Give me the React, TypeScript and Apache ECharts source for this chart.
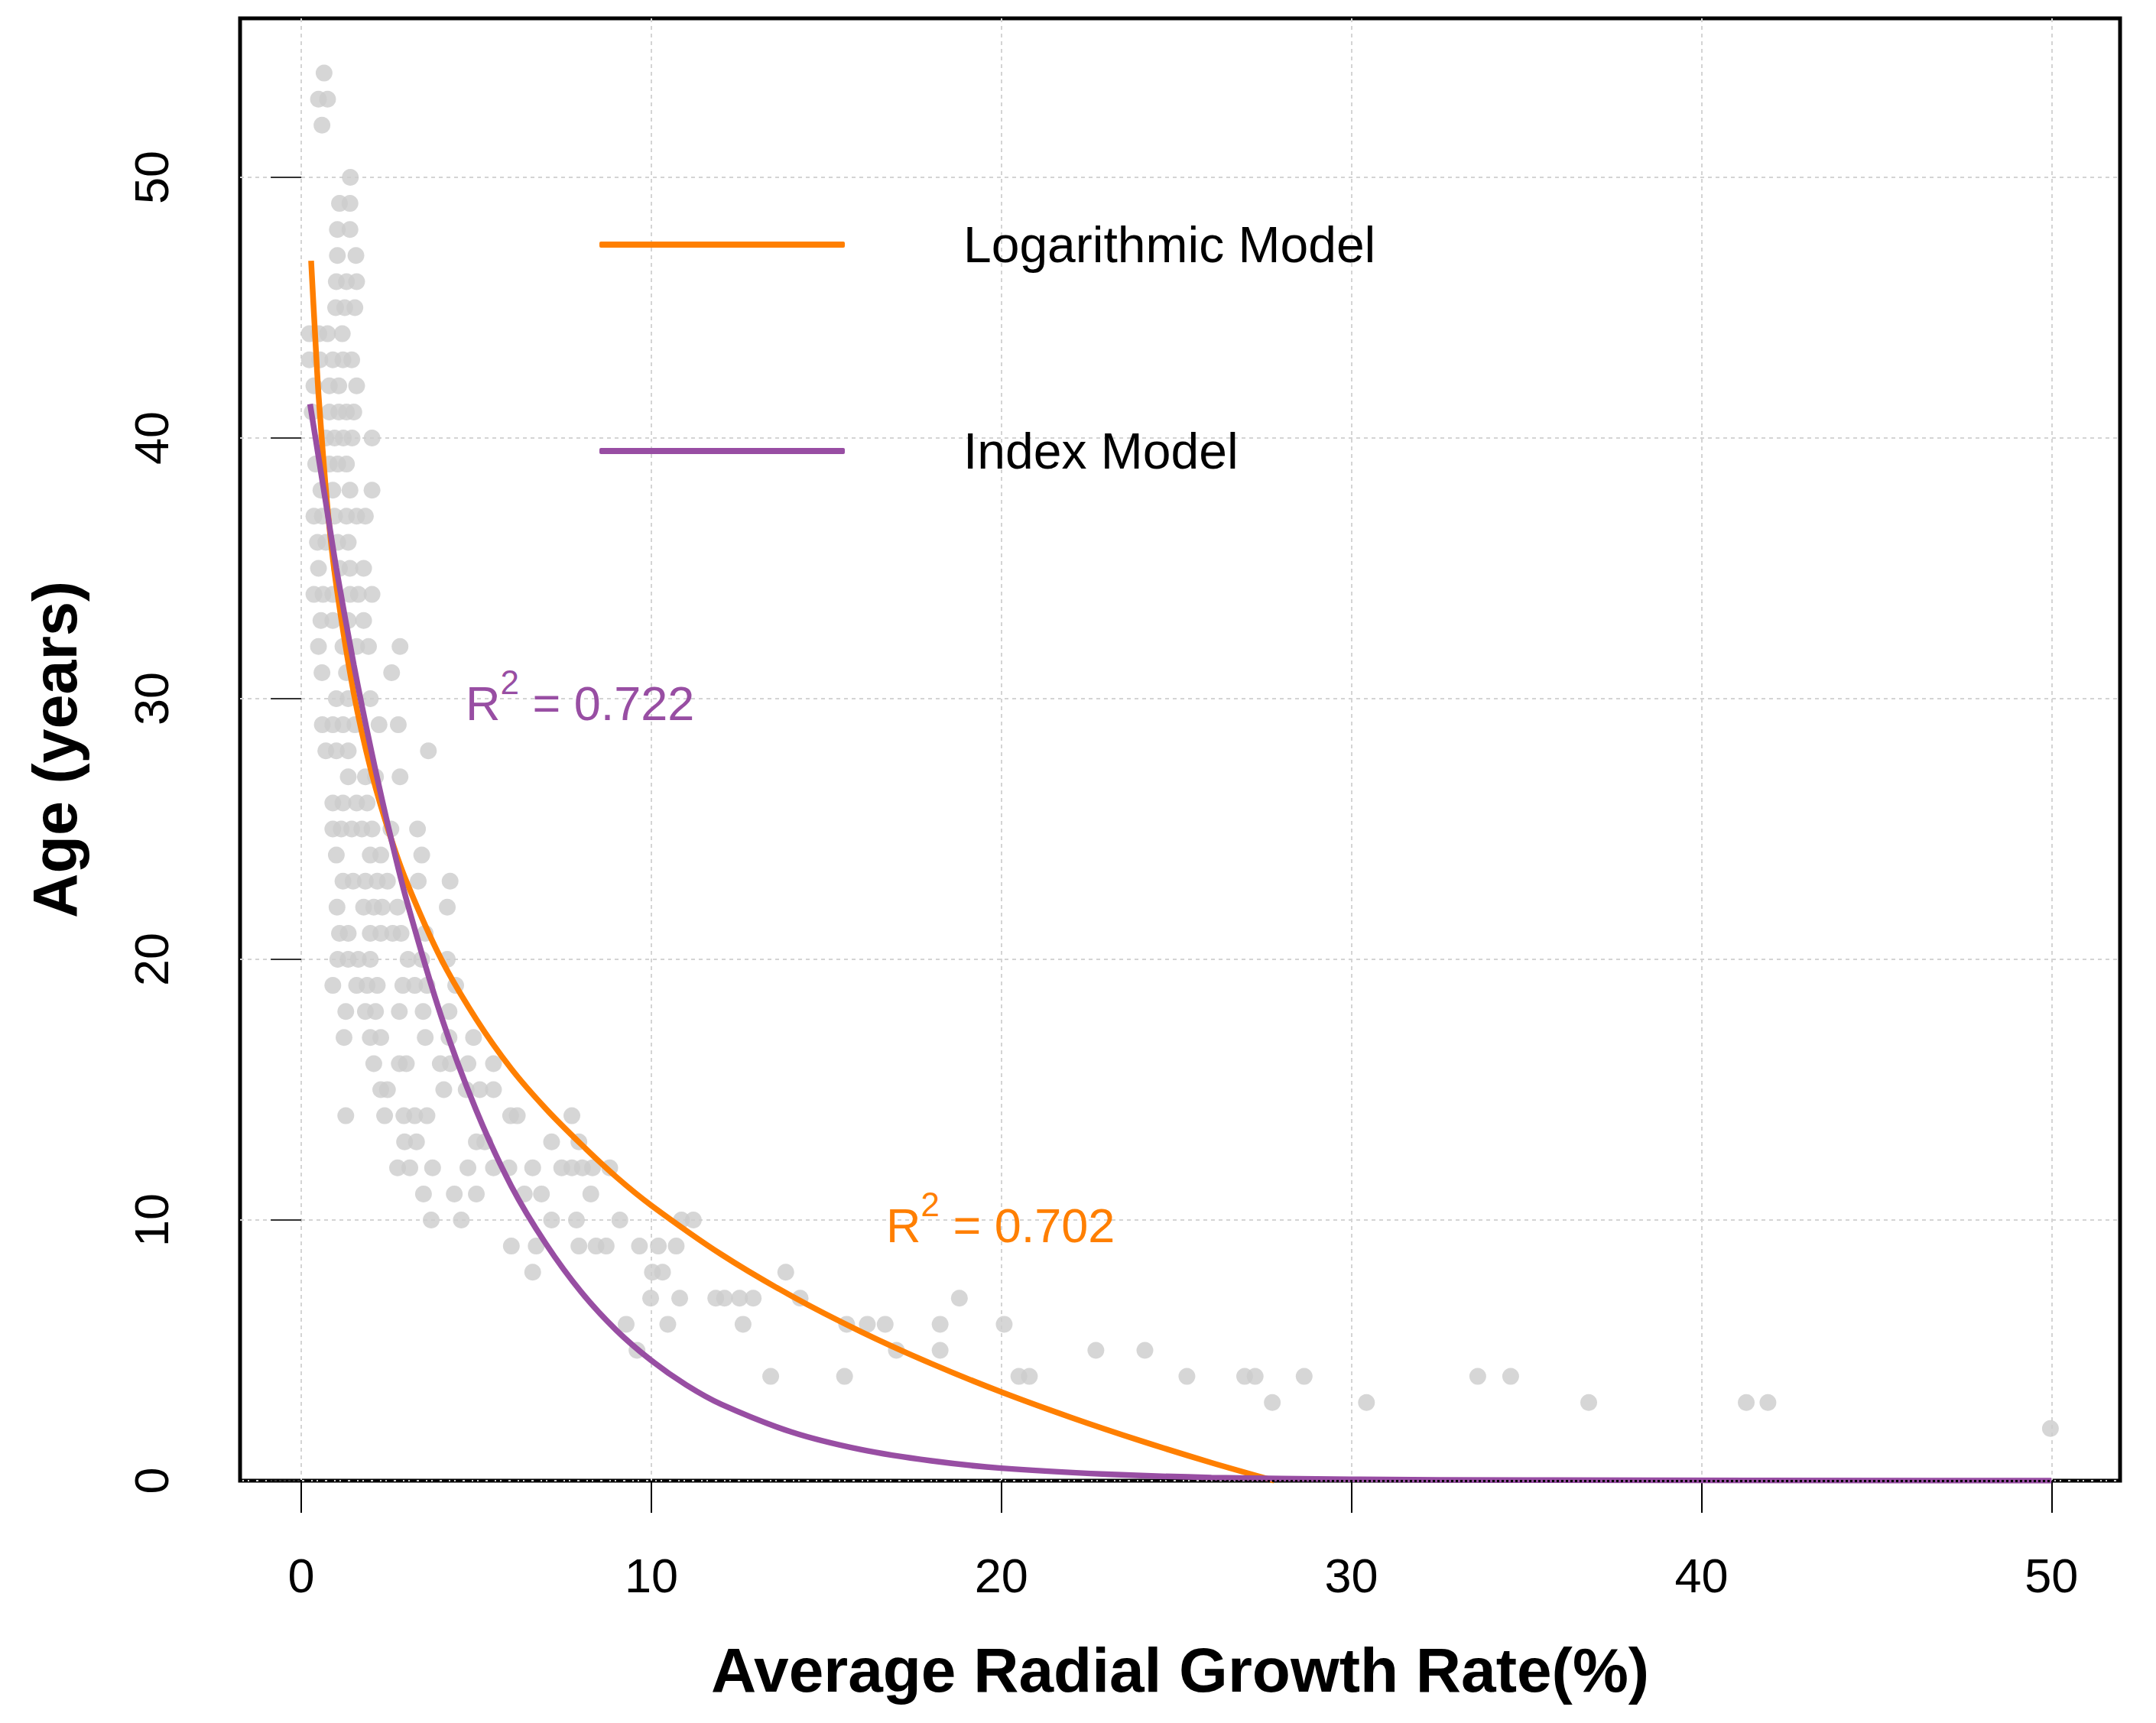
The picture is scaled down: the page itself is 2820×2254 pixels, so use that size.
import React, { useEffect, useRef } from "react";
import * as echarts from "echarts";

const xTicks = [0, 10, 20, 30, 40, 50];
const yTicks = [0, 10, 20, 30, 40, 50];

const pointAges = [
  54, 53, 52, 50, 49, 48, 47, 46, 45, 44, 43, 42, 41, 40, 39, 38, 37, 36, 35, 34,
  33, 32, 31, 30, 29, 28, 27, 26, 25, 24, 23, 22, 21, 20, 19, 18, 17, 16, 15, 14,
  13, 12, 11, 10, 9, 8, 7, 6, 5, 4, 3, 2,
];
const pointRates = [
  [0.65],
  [0.49, 0.75],
  [0.59],
  [1.4],
  [1.09, 1.39],
  [1.03, 1.39],
  [1.03, 1.56],
  [1.0, 1.29, 1.58],
  [0.98, 1.24, 1.53],
  [0.23, 0.5, 0.75, 1.17],
  [0.23, 0.53, 0.9, 1.19, 1.44],
  [0.36, 0.8, 1.07, 1.58],
  [0.31, 0.8, 1.07, 1.29, 1.5],
  [0.7, 0.95, 1.2, 1.45, 2.02],
  [0.41, 0.8, 1.04, 1.29],
  [0.56, 0.9, 1.39, 2.02],
  [0.36, 0.6, 0.95, 1.29, 1.58, 1.83],
  [0.46, 0.7, 1.04, 1.34],
  [0.49, 1.09, 1.39, 1.78],
  [0.36, 0.62, 0.9, 1.39, 1.63, 2.02],
  [0.56, 0.9, 1.34, 1.78],
  [0.49, 1.19, 1.58, 1.92, 2.82],
  [0.59, 1.29, 2.58],
  [1.0, 1.34, 1.97],
  [0.6, 0.9, 1.19, 1.53, 2.22, 2.77],
  [0.7, 1.0, 1.34, 3.63],
  [1.34, 1.83, 2.12, 2.82],
  [0.9, 1.19, 1.58, 1.88],
  [0.9, 1.14, 1.44, 1.73, 2.02, 2.56, 3.32],
  [1.0, 1.97, 2.27, 3.44],
  [1.19, 1.48, 1.83, 2.17, 2.46, 3.34, 4.25],
  [1.02, 1.78, 2.07, 2.31, 2.75, 4.17],
  [1.09, 1.34, 1.97, 2.27, 2.61, 2.85, 3.54],
  [1.04, 1.34, 1.63, 1.97, 3.05, 3.44, 4.17],
  [0.9, 1.58, 1.88, 2.17, 2.9, 3.24, 3.59, 4.41],
  [1.27, 1.83, 2.12, 2.8, 3.48, 4.22],
  [1.22, 1.97, 2.27, 3.54, 4.22, 4.92],
  [2.07, 2.8, 3.0, 3.97, 4.26, 4.76, 5.49],
  [2.27, 2.46, 4.07, 4.71, 5.1, 5.49],
  [1.27, 2.38, 2.93, 3.24, 3.59, 5.98, 6.17, 7.73],
  [2.95, 3.29, 5.0, 5.24, 7.15, 7.93],
  [2.75, 3.1, 3.75, 4.76, 5.49, 5.93, 6.61, 7.44, 7.73, 8.03, 8.32, 8.81],
  [3.49, 4.37, 5.0, 6.37, 6.86, 8.27],
  [3.71, 4.57, 7.15, 7.86, 9.1, 10.86, 11.2],
  [6.0, 6.71, 7.93, 8.42, 8.71, 9.66, 10.2, 10.71],
  [6.61, 10.03, 10.32, 13.84],
  [9.98, 10.81, 11.84, 12.09, 12.52, 12.91, 14.25, 18.8],
  [9.28, 10.47, 12.62, 15.58, 16.17, 16.68, 18.25, 20.08],
  [9.59, 17.0, 18.25, 22.7, 24.1],
  [13.41, 15.52, 20.5, 20.8, 25.3, 26.95, 27.25, 28.65, 33.61, 34.55],
  [27.74, 30.43, 36.78, 41.28, 41.9],
  [49.97],
];

// Logarithmic model curve
const logX = [0.28, 0.4, 0.5, 0.75, 1, 1.5, 2, 2.5, 3, 4, 5, 6, 7, 8, 9, 10, 12, 14, 16, 18, 20, 22, 24, 26, 27.8];
const logY = [46.8, 43.8, 41.5, 37.3, 34.35, 30.2, 27.2, 24.9, 23.0, 20.0, 17.7, 15.8, 14.25, 12.9, 11.65, 10.56, 8.68, 7.09, 5.71, 4.49, 3.4, 2.42, 1.52, 0.69, 0.0];

// Index (exponential) model curve
const idxX = [0.25, 0.5, 0.75, 1, 1.5, 2, 2.5, 3, 4, 5, 6, 7, 8, 9, 10, 11, 12, 14, 16, 18, 20, 23, 26, 30, 35, 50];
const idxY = [41.3, 39.2, 37.1, 35.0, 31.3, 28.0, 25.0, 22.3, 17.8, 14.2, 11.3, 9.06, 7.23, 5.77, 4.61, 3.67, 2.93, 1.87, 1.19, 0.76, 0.48, 0.25, 0.12, 0.05, 0.02, 0.0];

const seriesNames = ["Logarithmic Model", "Index Model"];
const seriesColors = ["#FF7F00", "#984EA3"];

export default function App() {
  const ref = useRef<HTMLDivElement>(null);

  useEffect(() => {
    if (!ref.current) return;
    const chart = echarts.init(ref.current, null, { renderer: "svg" });
    const font = "'Liberation Sans', Arial, Helvetica, sans-serif";

    const scatterData: number[][] = [];
    pointAges.forEach((age, i) => {
      pointRates[i].forEach((r) => scatterData.push([r, age]));
    });
    const logData = logX.map((x, i) => [x, logY[i]]);
    const idxData = idxX.map((x, i) => [x, idxY[i]]);

    const splitLine = {
      show: true,
      lineStyle: { color: "#d4d4d4", width: 2, type: [5, 5] },
    };

    chart.setOption({
      animation: false,
      backgroundColor: "#ffffff",
      grid: {
        left: 314,
        top: 24,
        width: 2459,
        height: 1913,
        show: true,
        borderColor: "#000000",
        borderWidth: 5,
        backgroundColor: "transparent",
        containLabel: false,
      },
      legend: {
        orient: "vertical",
        left: 779,
        top: 282,
        icon: "roundRect",
        itemWidth: 321,
        itemHeight: 8,
        itemGap: 204,
        selectedMode: false,
        data: seriesNames,
        textStyle: {
          fontFamily: font,
          fontSize: 66,
          color: "#000000",
          padding: [0, 0, 0, 150],
        },
      },
      xAxis: {
        type: "value",
        min: -1.75,
        max: 51.96,
        name: "Average Radial Growth Rate(%)",
        nameLocation: "middle",
        nameGap: 206,
        nameTextStyle: { fontFamily: font, fontSize: 82, fontWeight: "bold", color: "#000" },
        axisLine: { show: false },
        axisTick: {
          show: true,
          length: 42,
          customValues: xTicks,
          lineStyle: { color: "#000", width: 2 },
        },
        axisLabel: {
          customValues: xTicks,
          margin: 92,
          fontFamily: font,
          fontSize: 63,
          color: "#000",
        },
        splitLine,
      },
      yAxis: {
        type: "value",
        min: 0,
        max: 56.1,
        name: "Age (years)",
        nameLocation: "middle",
        nameGap: 202,
        nameTextStyle: { fontFamily: font, fontSize: 81, fontWeight: "bold", color: "#000" },
        axisLine: { show: false },
        axisTick: {
          show: true,
          length: 40,
          customValues: yTicks,
          lineStyle: { color: "#333", width: 2 },
        },
        axisLabel: {
          customValues: yTicks,
          rotate: 90,
          margin: 85,
          fontFamily: font,
          fontSize: 63,
          color: "#000",
        },
        splitLine,
      },
      series: [
        {
          type: "scatter",
          name: "points",
          data: scatterData,
          symbol: "circle",
          symbolSize: 22,
          itemStyle: { color: "#cccccc" },
          z: 1,
          silent: true,
          markLine: {
            silent: true,
            symbol: "none",
            label: { show: false },
            lineStyle: { color: "#000", type: [3, 3], width: 3 },
            data: [{ yAxis: 0 }],
          },
        },
        {
          type: "line",
          name: seriesNames[0],
          data: logData,
          symbol: "none",
          smooth: 0.3,
          lineStyle: { color: seriesColors[0], width: 7.5 },
          itemStyle: { color: seriesColors[0] },
          z: 2,
        },
        {
          type: "line",
          name: seriesNames[1],
          data: idxData,
          symbol: "none",
          smooth: 0.3,
          lineStyle: { color: seriesColors[1], width: 7.5 },
          itemStyle: { color: seriesColors[1] },
          z: 3,
        },
      ],
      graphic: [
        {
          type: "text",
          left: 609,
          top: 870,
          z: 10,
          style: {
            text: "{m|R}{s|2}{m| = 0.722}",
            fill: seriesColors[1],
            fontFamily: font,
            rich: {
              m: { fontSize: 63, lineHeight: 100, fill: seriesColors[1], fontFamily: font, verticalAlign: "middle" },
              s: { fontSize: 44, lineHeight: 44, fill: seriesColors[1], fontFamily: font, verticalAlign: "top" },
            },
          },
        },
        {
          type: "text",
          left: 1159,
          top: 1553,
          z: 10,
          style: {
            text: "{m|R}{s|2}{m| = 0.702}",
            fill: seriesColors[0],
            fontFamily: font,
            rich: {
              m: { fontSize: 63, lineHeight: 100, fill: seriesColors[0], fontFamily: font, verticalAlign: "middle" },
              s: { fontSize: 44, lineHeight: 44, fill: seriesColors[0], fontFamily: font, verticalAlign: "top" },
            },
          },
        },
      ],
    });

    return () => chart.dispose();
  }, []);

  return (
    <div
      ref={ref}
      style={{ position: "absolute", left: 0, top: 0, width: 2820, height: 2254 }}
    />
  );
}
